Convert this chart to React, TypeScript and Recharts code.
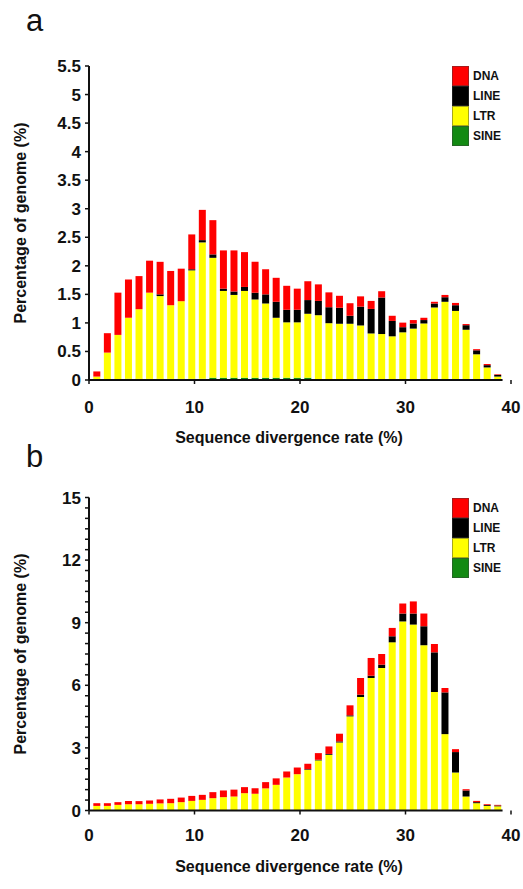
import { BarChart, Bar, XAxis, YAxis, Legend, Label, ReferenceLine } from 'recharts'

// divergence bins (%), one bar per bin
const bins = Array.from({ length: 39 }, (_, i) => i + 1)
const xTicks = [0, 10, 20, 30, 40]

// panel a – percentage of genome per repeat class
const aSINE = [0, 0, 0, 0.02, 0.02, 0.02, 0.02, 0.02, 0.02, 0.02, 0.02, 0.04, 0.04, 0.04, 0.04, 0.04, 0.04, 0.04, 0.04, 0.04, 0.04, 0.015, 0.015, 0.015, 0.015, 0.015, 0.015, 0.015, 0.015, 0.015, 0, 0, 0, 0, 0, 0, 0, 0, 0]
const aLTR = [0.06, 0.48, 0.79, 1.07, 1.22, 1.51, 1.45, 1.29, 1.36, 1.9, 2.39, 2.1, 1.52, 1.45, 1.52, 1.37, 1.3, 1.05, 0.97, 0.97, 1.12, 1.12, 0.98, 0.97, 0.97, 0.94, 0.8, 0.79, 0.75, 0.82, 0.9, 0.99, 1.27, 1.37, 1.21, 0.88, 0.45, 0.22, 0.06]
const aLINE = [0, 0, 0, 0, 0, 0, 0.03, 0, 0, 0.02, 0.04, 0.06, 0.04, 0.06, 0.07, 0.12, 0.16, 0.28, 0.22, 0.22, 0.24, 0.25, 0.28, 0.28, 0.14, 0.33, 0.43, 0.64, 0.27, 0.09, 0.09, 0.06, 0.07, 0.08, 0.1, 0.08, 0.07, 0.04, 0.03]
const aDNA = [0.09, 0.34, 0.74, 0.67, 0.58, 0.56, 0.57, 0.6, 0.57, 0.61, 0.53, 0.6, 0.67, 0.72, 0.61, 0.54, 0.44, 0.42, 0.42, 0.37, 0.33, 0.29, 0.26, 0.21, 0.22, 0.18, 0.14, 0.11, 0.09, 0.08, 0.06, 0.04, 0.03, 0.04, 0.04, 0.02, 0.02, 0.02, 0.01]
const aYTicks = [0, 0.5, 1, 1.5, 2, 2.5, 3, 3.5, 4, 4.5, 5, 5.5]

// panel b
const bSINE = [0, 0, 0, 0, 0, 0, 0, 0, 0, 0, 0, 0, 0, 0, 0, 0, 0, 0, 0, 0, 0, 0, 0, 0, 0, 0, 0, 0, 0, 0, 0, 0, 0, 0, 0, 0, 0, 0, 0]
const bLTR = [0.22, 0.22, 0.27, 0.3, 0.3, 0.32, 0.34, 0.35, 0.4, 0.46, 0.51, 0.59, 0.64, 0.67, 0.83, 0.8, 1.06, 1.23, 1.58, 1.74, 1.95, 2.4, 2.67, 3.26, 4.51, 5.44, 6.35, 6.83, 8.06, 9.06, 8.91, 7.92, 5.68, 3.66, 1.82, 0.67, 0.35, 0.22, 0.2]
const bLINE = [0, 0, 0, 0, 0, 0, 0, 0, 0, 0, 0, 0, 0, 0, 0, 0, 0, 0, 0, 0, 0.03, 0.03, 0.04, 0.05, 0.05, 0.11, 0.11, 0.16, 0.29, 0.38, 0.53, 0.91, 1.9, 2.0, 0.98, 0.29, 0.05, 0.04, 0.04]
const bDNA = [0.13, 0.13, 0.13, 0.15, 0.15, 0.16, 0.19, 0.21, 0.22, 0.24, 0.24, 0.29, 0.32, 0.33, 0.29, 0.27, 0.3, 0.31, 0.29, 0.32, 0.26, 0.32, 0.36, 0.37, 0.48, 0.8, 0.85, 0.51, 0.4, 0.48, 0.58, 0.61, 0.4, 0.21, 0.14, 0.06, 0.06, 0.04, 0.03]
const bYTicks = Array.from({ length: 31 }, (_, i) => i * 0.5)

const FONT = "'Liberation Sans', Arial, sans-serif"
const COLORS = { DNA: '#ff0000', LINE: '#000000', LTR: '#ffff00', SINE: '#138a13' }
const legendOrder = ['DNA', 'LINE', 'LTR', 'SINE']

const buildRows = (sine: number[], ltr: number[], line: number[], dna: number[]) =>
  bins.map((b, i) => ({ x: b - 0.28, SINE: sine[i], LTR: ltr[i], LINE: line[i], DNA: dna[i] }))

const dataA = buildRows(aSINE, aLTR, aLINE, aDNA)
const dataB = buildRows(bSINE, bLTR, bLINE, bDNA)

function RepeatLegend({ payload }: any) {
  const items = legendOrder
    .map(n => (payload || []).find((p: any) => p.value === n))
    .filter(Boolean)
  return (
    <div style={{ fontFamily: FONT }}>
      {items.map((p: any) => (
        <div key={p.value} style={{ display: 'flex', alignItems: 'center', height: 20 }}>
          <span
            style={{
              width: 17,
              height: 20,
              background: p.color,
              boxSizing: 'border-box',
              border: '1px solid rgba(60,60,60,0.45)',
            }}
          />
          <span style={{ marginLeft: 4, fontSize: 12, fontWeight: 700, color: '#111' }}>{p.value}</span>
        </div>
      ))}
    </div>
  )
}

interface PanelProps {
  data: ReturnType<typeof buildRows>
  yMax: number
  yTicks: number[]
  yLabelEvery: number
  height: number
  top: number
  bottom: number
  tickGap: number
  titleOffset: number
}

function DivergencePanel({ data, yMax, yTicks, yLabelEvery, height, top, bottom, tickGap, titleOffset }: PanelProps) {
  const tickStyle = { fontSize: 17, fontWeight: 700, fill: '#111', fontFamily: FONT }
  return (
    <BarChart width={523} height={height} data={data} margin={{ top, right: 12, bottom, left: 0 }} barSize={7}>
      <XAxis
        dataKey="x"
        type="number"
        domain={[0, 40]}
        ticks={xTicks}
        axisLine={false}
        tickLine={{ stroke: '#111', strokeWidth: 1.5 }}
        tickSize={4}
        tickMargin={tickGap}
        tick={tickStyle}
        height={65}
      >
        <Label
          value="Sequence divergence rate (%)"
          position="insideBottom"
          offset={titleOffset}
          dx={-11}
          style={{ fontSize: 16, fontWeight: 700, fill: '#111', fontFamily: FONT }}
        />
      </XAxis>
      <YAxis
        type="number"
        domain={[0, yMax]}
        ticks={yTicks}
        interval={0}
        width={89}
        axisLine={{ stroke: '#111', strokeWidth: 2 }}
        tickLine={{ stroke: '#111', strokeWidth: 1.5 }}
        tickSize={4}
        tickMargin={4}
        tick={tickStyle}
        tickFormatter={(v: number) => (Math.abs(v / yLabelEvery - Math.round(v / yLabelEvery)) < 1e-6 ? String(v) : '')}
      >
        <Label
          value="Percentage of genome (%)"
          angle={-90}
          position="insideLeft"
          offset={20}
          style={{ fontSize: 16, fontWeight: 700, fill: '#111', fontFamily: FONT, textAnchor: 'middle' }}
        />
      </YAxis>
      <ReferenceLine
        segment={[{ x: 0, y: 0 }, { x: 39.2, y: 0 }]}
        stroke="#111"
        strokeWidth={2}
      />
      <Legend
        layout="horizontal"
        align="center"
        verticalAlign="middle"
        content={<RepeatLegend />}
        wrapperStyle={{ top, left: 452, width: 70 }}
      />
      <Bar dataKey="SINE" name="SINE" stackId="r" fill={COLORS.SINE} isAnimationActive={false} />
      <Bar dataKey="LTR" name="LTR" stackId="r" fill={COLORS.LTR} isAnimationActive={false} />
      <Bar dataKey="LINE" name="LINE" stackId="r" fill={COLORS.LINE} isAnimationActive={false} />
      <Bar dataKey="DNA" name="DNA" stackId="r" fill={COLORS.DNA} isAnimationActive={false} />
    </BarChart>
  )
}

const panelLetter = { position: 'absolute' as const, left: 26, fontFamily: FONT, fontSize: 31, lineHeight: 1, color: '#111' }

export default function App() {
  return (
    <div style={{ position: 'absolute', left: 0, top: 0, width: 523, height: 889, background: '#fff', overflow: 'hidden' }}>
      <div style={{ ...panelLetter, top: 5 }}>a</div>
      <div style={{ position: 'absolute', left: 0, top: 0 }}>
        <DivergencePanel
          data={dataA}
          yMax={5.5}
          yTicks={aYTicks}
          yLabelEvery={0.5}
          height={450}
          top={66}
          bottom={5}
          tickGap={17}
          titleOffset={2}
        />
      </div>
      <div style={{ ...panelLetter, top: 441 }}>b</div>
      <div style={{ position: 'absolute', left: 0, top: 440 }}>
        <DivergencePanel
          data={dataB}
          yMax={15}
          yTicks={bYTicks}
          yLabelEvery={3}
          height={449}
          top={57.5}
          bottom={13.5}
          tickGap={14.5}
          titleOffset={3.5}
        />
      </div>
    </div>
  )
}
